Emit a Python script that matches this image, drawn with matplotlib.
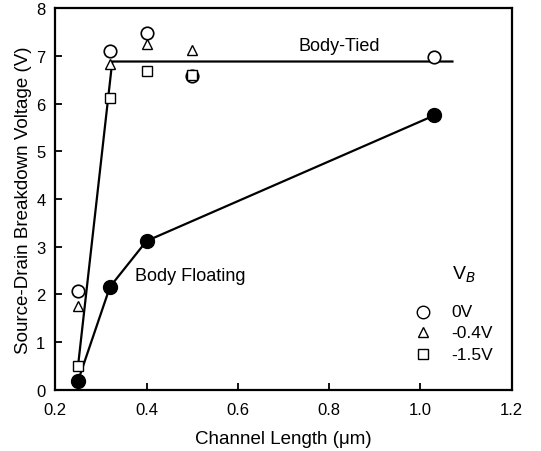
import matplotlib
matplotlib.use("Agg")
import matplotlib.pyplot as plt

plt.rcParams['font.family'] = ['Liberation Sans', 'DejaVu Sans']

# channel length (um)
x_float = [0.25, 0.32, 0.40, 1.03]
y_float = [0.19, 2.16, 3.12, 5.75]

x_0v = [0.25, 0.32, 0.40, 0.50, 1.03]
y_0v = [2.08, 7.10, 7.48, 6.58, 6.98]

x_04v = [0.25, 0.32, 0.40, 0.50]
y_04v = [1.76, 6.83, 7.25, 7.13]

x_15v = [0.25, 0.32, 0.40, 0.50]
y_15v = [0.50, 6.12, 6.69, 6.60]

# body-tied guide line
x_tied = [0.25, 0.325, 1.07]
y_tied = [0.50, 6.88, 6.88]

fig = plt.figure(figsize=(5.41, 4.52), dpi=100)
ax = fig.add_axes([0.102, 0.135, 0.844, 0.845])

ax.plot(x_tied, y_tied, 'k-', lw=1.6)
ax.plot(x_float, y_float, 'k-', lw=1.6, marker='o', ms=10, mfc='k')
ax.plot(x_0v, y_0v, 'o', ms=9, mfc='white', mec='k', mew=1.2, ls='none')
ax.plot(x_04v, y_04v, '^', ms=7, mfc='white', mec='k', mew=1.0, ls='none')
ax.plot(x_15v, y_15v, 's', ms=7.5, mfc='white', mec='k', mew=1.0, ls='none')

ax.text(0.732, 7.21, 'Body-Tied', fontsize=13, va='center')
ax.text(0.375, 2.39, 'Body Floating', fontsize=13, va='center')

# hand-placed legend
ax.text(1.07, 2.43, r'V$_{\mathit{B}}$', fontsize=14, va='center')
for yy, mk, ms, lab in [(1.64, 'o', 9, '0V'), (1.21, '^', 7, '-0.4V'), (0.75, 's', 7.5, '-1.5V')]:
    ax.plot([1.005], [yy], mk, ms=ms, mfc='white', mec='k', mew=1.0)
    ax.text(1.068, yy, lab, fontsize=12.5, va='center')

ax.set_xlim(0.2, 1.2)
ax.set_ylim(0, 8)
ax.set_xticks([0.2, 0.4, 0.6, 0.8, 1.0, 1.2])
ax.set_xticklabels(['0.2', '0.4', '0.6', '0.8', '1.0', '1.2'])
ax.set_yticks(range(0, 9))
ax.tick_params(direction='in', length=5, width=1.3, labelsize=12, top=False, right=False)
ax.tick_params(axis='x', pad=9)
ax.tick_params(axis='y', pad=7)
for s in ax.spines.values():
    s.set_linewidth(1.6)

ax.set_xlabel('Channel Length (\u03bcm)', fontsize=13.5, labelpad=9)
ax.set_ylabel('Source-Drain Breakdown Voltage (V)', fontsize=13.5, labelpad=3)

fig.savefig('out.png', dpi=100)
